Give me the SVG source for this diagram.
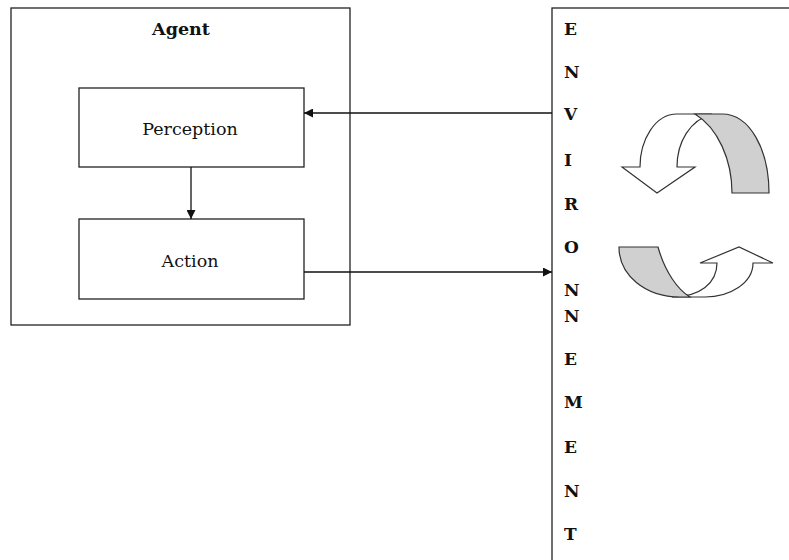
<svg xmlns="http://www.w3.org/2000/svg" width="789" height="560" viewBox="0 0 789 560">
<defs>
<style>
.box{fill:#fff;stroke:#222;stroke-width:1.3}
.lbl{font-family:"DejaVu Serif","Liberation Serif",serif;font-size:17.5px;fill:#111;text-anchor:middle}
.bold{font-weight:bold}
.env{font-family:"DejaVu Serif","Liberation Serif",serif;font-size:17px;font-weight:bold;fill:#111}
.conn{stroke:#111;stroke-width:1.3;fill:none}
.cyc{stroke:#333;stroke-width:1.2;stroke-linejoin:miter}
</style>
<marker id="ah" viewBox="0 0 10 10" refX="10" refY="5" markerWidth="10" markerHeight="9" markerUnits="userSpaceOnUse" orient="auto">
<path d="M0,0 L10,5 L0,10 Z" fill="#111"/>
</marker>
</defs>
<rect width="789" height="560" fill="#fff"/>
<g id="agent">
<rect class="box" x="11" y="8" width="339" height="317"/>
<text class="lbl bold" x="181" y="35" font-size="18.5">Agent</text>
</g>
<g id="perception">
<rect class="box" x="79" y="88" width="225" height="79"/>
<text class="lbl" x="190" y="135">Perception</text>
</g>
<g id="action">
<rect class="box" x="79" y="219" width="225" height="80"/>
<text class="lbl" x="190" y="267" font-size="19">Action</text>
</g>
<g id="environment">
<rect class="box" x="552" y="8" width="300" height="600"/>
<text class="env" x="564" y="35">E</text>
<text class="env" x="564" y="78">N</text>
<text class="env" x="564" y="120">V</text>
<text class="env" x="564" y="166">I</text>
<text class="env" x="564" y="210">R</text>
<text class="env" x="564" y="253">O</text>
<text class="env" x="564" y="296">N</text>
<text class="env" x="564" y="322">N</text>
<text class="env" x="564" y="365">E</text>
<text class="env" x="564" y="408">M</text>
<text class="env" x="564" y="453">E</text>
<text class="env" x="564" y="497">N</text>
<text class="env" x="564" y="540">T</text>
</g>
<g id="cycle">
<path class="cyc" fill="#fff" d="M622,167 L657,193 L695,167 L677,167 C677,142 690,120 712,114 L677,114 C655,114 640,140 640,167 Z"/>
<path class="cyc" fill="#d0d0d0" d="M695,114 L722,114 C750,114 769,150 769,193 L732,193 C732,160 718,128 695,114 Z"/>
<path class="cyc" fill="#fff" d="M700,263 L739,247 L773,263 L753,263 C753,283 730,297 705,297 L672,297 C700,297 717,283 717,263 Z"/>
<path class="cyc" fill="#d0d0d0" d="M619,247 L658,247 C665,272 678,290 690,297 L680,297 C645,297 619,275 619,247 Z"/>
</g>
<g id="connectors">
<line class="conn" x1="191" y1="167" x2="191" y2="219" marker-end="url(#ah)"/>
<line class="conn" x1="552" y1="113" x2="304" y2="113" marker-end="url(#ah)"/>
<line class="conn" x1="304" y1="272" x2="552" y2="272" marker-end="url(#ah)"/>
</g>
</svg>
